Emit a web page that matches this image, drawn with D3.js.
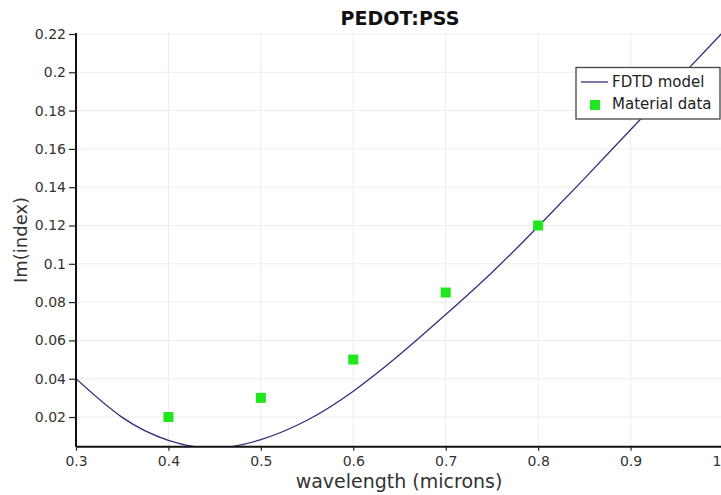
<!DOCTYPE html>
<html>
<head>
<meta charset="utf-8">
<script src="https://cdn.jsdelivr.net/npm/d3@7/dist/d3.min.js"></script>
<style>
  html, body { margin: 0; padding: 0; background: #fff; }
  svg { display: block; font-family: "DejaVu Sans", sans-serif; }
</style>
</head>
<body>
<svg id="chart" width="721" height="495"></svg>
<script>
// FDTD fit of the imaginary index of PEDOT:PSS
const modelWavelength = [0.30, 0.35, 0.40, 0.45, 0.50, 0.55, 0.60, 0.65,
                         0.70, 0.75, 0.80, 0.85, 0.90, 0.95, 1.00];
const modelImIndex   = [0.0400, 0.0198, 0.0078, 0.0038, 0.0082, 0.0183, 0.0335, 0.0525,
                        0.0735, 0.0955, 0.1195, 0.1445, 0.1700, 0.1955, 0.2210];

// Measured material data
const dataWavelength = [0.4, 0.5, 0.6, 0.7, 0.8];
const dataImIndex    = [0.020, 0.030, 0.050, 0.085, 0.120];

const xTicks = [0.3, 0.4, 0.5, 0.6, 0.7, 0.8, 0.9, 1.0];
const yTicks = [0.02, 0.04, 0.06, 0.08, 0.10, 0.12, 0.14, 0.16, 0.18, 0.20, 0.22];

const seriesNames = ["FDTD model", "Material data"];
const chartTitle = "PEDOT:PSS";
const xLabel = "wavelength (microns)";
const yLabel = "Im(index)";

const svg = d3.select("#chart");
const plot = { left: 76, right: 723, top: 34, bottom: 446.7 };

const x = d3.scaleLinear().domain([0.3, 1.0]).range([plot.left, plot.right]);
const y = d3.scaleLinear().domain([0.0045, 0.22]).range([plot.bottom, plot.top]);
const fmt = d3.format("~g");

svg.append("defs").append("clipPath").attr("id", "plotClip")
  .append("rect")
  .attr("x", plot.left).attr("y", plot.top - 1)
  .attr("width", plot.right - plot.left).attr("height", plot.bottom - plot.top + 1);

// grid
const grid = svg.append("g").attr("stroke", "#ececec").attr("stroke-width", 1);
grid.selectAll("line.gx").data(xTicks.slice(1)).join("line")
  .attr("x1", d => x(d)).attr("x2", d => x(d))
  .attr("y1", plot.top - 1).attr("y2", plot.bottom);
grid.selectAll("line.gy").data(yTicks).join("line")
  .attr("x1", plot.left).attr("x2", plot.right)
  .attr("y1", d => y(d)).attr("y2", d => y(d));

// model curve
const model = modelWavelength.map((w, i) => [w, modelImIndex[i]]);
svg.append("path")
  .datum(model)
  .attr("clip-path", "url(#plotClip)")
  .attr("fill", "none")
  .attr("stroke", "#30307c")
  .attr("stroke-width", 1.3)
  .attr("d", d3.line().x(d => x(d[0])).y(d => y(d[1])).curve(d3.curveNatural));

// material data squares
const sq = 10;
svg.selectAll("rect.pt")
  .data(dataWavelength.map((w, i) => [w, dataImIndex[i]]))
  .join("rect")
  .attr("class", "pt")
  .attr("x", d => x(d[0]) - sq / 2)
  .attr("y", d => y(d[1]) - sq / 2)
  .attr("width", sq).attr("height", sq)
  .attr("fill", "#1fe61f");

// axes
const xAxis = svg.append("g")
  .attr("transform", `translate(0,${plot.bottom})`)
  .call(d3.axisBottom(x).tickValues(xTicks).tickFormat(fmt).tickSize(4).tickPadding(5));
const yAxis = svg.append("g")
  .attr("transform", `translate(${plot.left},0)`)
  .call(d3.axisLeft(y).tickValues(yTicks).tickFormat(fmt).tickSize(7).tickPadding(3));

[xAxis, yAxis].forEach(g => {
  g.select(".domain").attr("stroke", "#111").attr("stroke-width", 2);
  g.selectAll(".tick line").attr("stroke", "#222").attr("stroke-width", 1.2);
  g.selectAll(".tick text")
    .attr("fill", "#333")
    .style("font-family", "'DejaVu Sans', sans-serif")
    .style("font-size", "14px");
});
xAxis.select(".domain").attr("d", `M${plot.left},0H${plot.right}`);
yAxis.select(".domain").attr("d", `M0,${plot.top - 1}V${plot.bottom}`);
// the last x label sits at the window edge: keep it inside
xAxis.selectAll(".tick text").filter(d => d === 1)
  .attr("text-anchor", "end")
  .attr("x", 721 - x(1));

// titles
svg.append("text")
  .attr("x", 400).attr("y", 25)
  .attr("text-anchor", "middle")
  .attr("fill", "#111")
  .style("font-size", "19px")
  .style("font-weight", "bold")
  .text(chartTitle);

svg.append("text")
  .attr("x", 399).attr("y", 488)
  .attr("text-anchor", "middle")
  .attr("fill", "#333")
  .style("font-size", "19px")
  .text(xLabel);

svg.append("text")
  .attr("transform", "translate(27,240) rotate(-90)")
  .attr("text-anchor", "middle")
  .attr("fill", "#333")
  .style("font-size", "18px")
  .text(yLabel);

// legend
const legend = svg.append("g");
legend.append("rect")
  .attr("x", 576).attr("y", 67.5)
  .attr("width", 144).attr("height", 51.5)
  .attr("fill", "#fff")
  .attr("stroke", "#444").attr("stroke-width", 1.3);
legend.append("line")
  .attr("x1", 581).attr("x2", 608).attr("y1", 82).attr("y2", 82)
  .attr("stroke", "#30307c").attr("stroke-width", 1.3);
legend.append("rect")
  .attr("x", 590).attr("y", 100).attr("width", sq).attr("height", sq)
  .attr("fill", "#1fe61f");
legend.selectAll("text.lg")
  .data(seriesNames)
  .join("text")
  .attr("class", "lg")
  .attr("x", 612)
  .attr("y", (d, i) => 86.5 + i * 22)
  .attr("fill", "#222")
  .style("font-size", "15px")
  .text(d => d);
</script>
</body>
</html>
